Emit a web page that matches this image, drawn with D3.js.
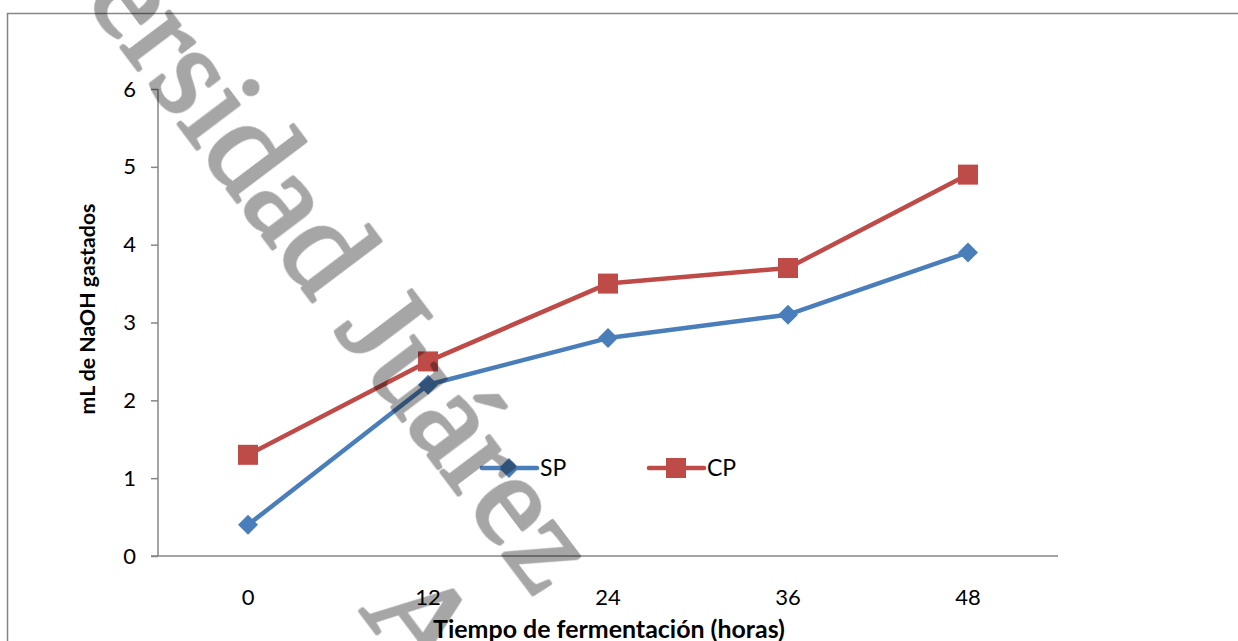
<!DOCTYPE html>
<html>
<head>
<meta charset="utf-8">
<script src="https://cdn.jsdelivr.net/npm/d3@7"></script>
<style>
  html, body { margin: 0; padding: 0; background: #fff; }
  svg { display: block; }
</style>
</head>
<body>
<svg id="chart" width="1238" height="641"></svg>
<script>
const categories = ["0", "12", "24", "36", "48"];
const seriesNames = ["SP", "CP"];
const spValues = [0.4, 2.2, 2.8, 3.1, 3.9];
const cpValues = [1.3, 2.5, 3.5, 3.7, 4.9];
const yTicks = [0, 1, 2, 3, 4, 5, 6];
const xTitle = "Tiempo de fermentación (horas)";
const yTitle = "mL de NaOH gastados";
const watermarkLines = ["Universidad Juárez", "Autónoma de Tabasco"];

const svg = d3.select("#chart");
const font = "Lato, 'Open Sans', sans-serif";
const axisColor = "#868686";
const colors = { SP: "#4a7ebb", CP: "#be4b48" };

function fitWidth(sel, target) {
  const fs = +sel.attr("font-size");
  const w = sel.node().getComputedTextLength();
  sel.attr("font-size", (fs * target / w).toFixed(2));
}

// outer border
svg.append("rect").attr("x", 7.5).attr("y", 13.5).attr("width", 1400).attr("height", 800)
  .attr("fill", "#fff").attr("stroke", axisColor).attr("stroke-width", 1.5);

const x = d3.scaleBand().domain(categories).range([158, 1058]).padding(0);
const y = d3.scaleLinear().domain([0, 6]).range([556, 89]);

// y axis
const yAxis = d3.axisLeft(y).tickValues(yTicks).tickSize(7).tickPadding(15).tickFormat(d3.format("d"));
const gy = svg.append("g").attr("transform", "translate(158,0)").call(yAxis);
gy.select(".domain").attr("stroke", axisColor).attr("stroke-width", 1.5).attr("d", `M0,${y(6)}V${y(0)}`);
gy.selectAll(".tick line").attr("stroke", axisColor).attr("stroke-width", 1.5);
gy.selectAll(".tick text").attr("font-family", font).attr("font-size", 22).attr("fill", "#000");

// x axis
const xAxis = d3.axisBottom(x).tickSize(0).tickPadding(33);
const gx = svg.append("g").attr("transform", `translate(0,${y(0)})`).call(xAxis);
gx.select(".domain").attr("stroke", axisColor).attr("stroke-width", 1.5).attr("d", "M151,0H1058");
gx.selectAll(".tick text").attr("font-family", font).attr("font-size", 22).attr("fill", "#000");

// titles
const xt = svg.append("text").attr("x", 609).attr("y", 638).attr("text-anchor", "middle")
  .attr("font-family", font).attr("font-weight", "bold").attr("font-size", 20).text(xTitle);
fitWidth(xt, 352);
const yt = svg.append("text").attr("transform", "translate(95,309) rotate(-90)").attr("text-anchor", "middle")
  .attr("font-family", font).attr("font-weight", "bold").attr("font-size", 20).text(yTitle);
fitWidth(yt, 211);

// series
const series = [
  { name: "SP", values: spValues, marker: "diamond" },
  { name: "CP", values: cpValues, marker: "square" }
];
const line = d3.line().x((d, i) => x(categories[i]) + x.bandwidth() / 2).y(d => y(d));

function drawMarker(g, type, cx, cy, color) {
  if (type === "diamond") {
    g.append("path").attr("d", `M${cx},${cy - 10}L${cx + 10},${cy}L${cx},${cy + 10}L${cx - 10},${cy}Z`)
      .attr("fill", color);
  } else {
    g.append("rect").attr("x", cx - 10).attr("y", cy - 10).attr("width", 20).attr("height", 20)
      .attr("fill", color);
  }
}

series.forEach(s => {
  const g = svg.append("g");
  g.append("path").datum(s.values).attr("d", line).attr("fill", "none")
    .attr("stroke", colors[s.name]).attr("stroke-width", 4.5).attr("stroke-linejoin", "round");
  s.values.forEach((v, i) => drawMarker(g, s.marker, x(categories[i]) + x.bandwidth() / 2, y(v), colors[s.name]));
});

// legend
const legendX = [482, 649];
series.forEach((s, i) => {
  const g = svg.append("g");
  const lx = legendX[i], ly = 468;
  g.append("line").attr("x1", lx).attr("x2", lx + 55).attr("y1", ly).attr("y2", ly)
    .attr("stroke", colors[s.name]).attr("stroke-width", 4.5).attr("stroke-linecap", "round");
  drawMarker(g, s.marker, lx + 27, ly, colors[s.name]);
  g.append("text").attr("x", lx + 58).attr("y", ly + 8).attr("font-family", font).attr("font-size", 23)
    .text(s.name);
});

// watermark
const wm = svg.append("g").attr("opacity", 0.35).attr("fill", "#000").attr("stroke", "#000")
  .attr("stroke-width", 3.5).attr("stroke-linejoin", "round")
  .attr("font-family", "'Liberation Serif', 'Times New Roman', serif").attr("font-size", 132);
wm.append("text").attr("transform", "translate(-75,-212) rotate(53)").text(watermarkLines[0]);
wm.append("text").attr("transform", "translate(359,610) rotate(53)").text(watermarkLines[1]);
</script>
</body>
</html>
